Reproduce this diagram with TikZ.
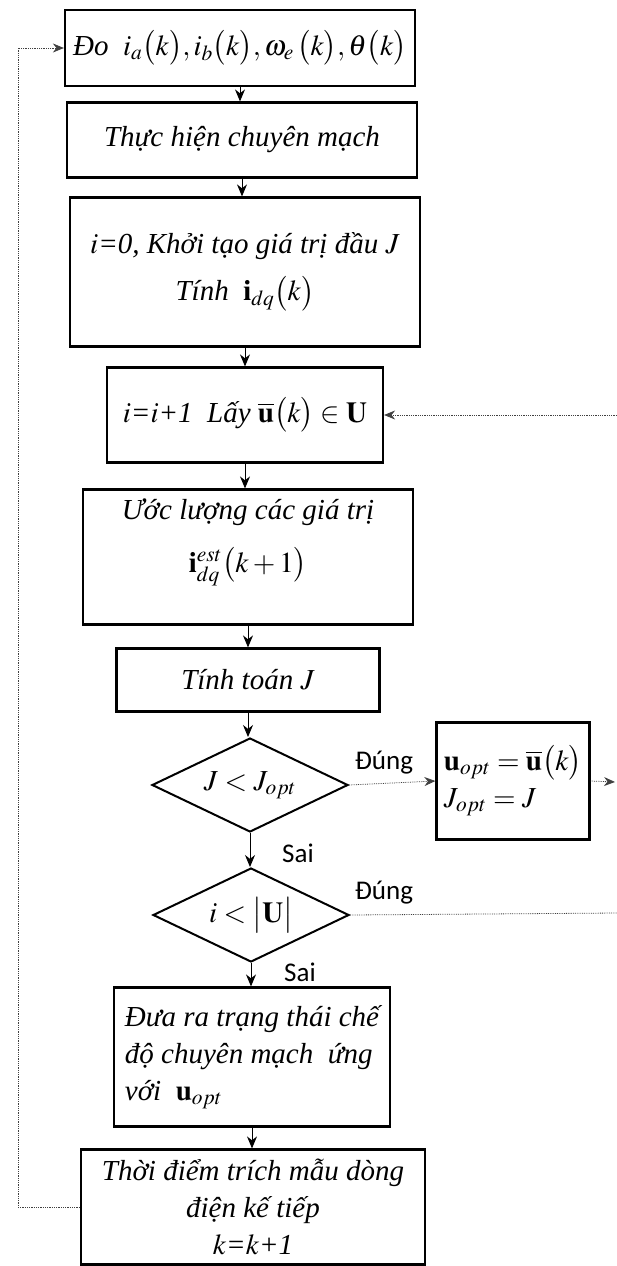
\documentclass[tikz,border=0pt]{standalone}
\usepackage{mathptmx}
\usepackage{fontspec}
\setmainfont{Liberation Serif}
\newfontfamily\labfont{Carlito}
\usetikzlibrary{shapes.geometric,arrows.meta}
\begin{document}
\begin{tikzpicture}[x=1pt,y=-1pt,
  box/.style={draw,line width=2.2pt,inner sep=4pt,font=\fontsize{29}{37}\selectfont\itshape,align=center},
  dia/.style={draw,diamond,line width=2pt,inner sep=0pt,font=\fontsize{29}{37}\selectfont,minimum width=196pt,minimum height=94pt,aspect=2.08},
  arr/.style={line width=0.9pt,-{Stealth[length=12pt,width=10pt]}},
  lp/.style={line width=0.8pt,densely dotted,black!75},
  lparr/.style={lp,-{Stealth[length=11pt,width=9pt]}},
  lab/.style={font=\labfont\fontsize{27}{32}\selectfont}]
\useasboundingbox (0,0) rectangle (617,1266);

\node[box,minimum width=350pt,minimum height=76pt] (b1) at (240,48)
  {Đo\enspace $i_a\bigl(k\bigr), i_b\bigl(k\bigr), \omega_e\,\bigl(k\bigr), \theta\bigl(k\bigr)$};
\node[box,minimum width=350pt,minimum height=75pt] (b2) at (242,140)
  {Thực hiện chuyên mạch};
\node[box,minimum width=350pt,minimum height=149pt] (b3) at (245,272)
  {$i$=0, Khởi tạo giá trị đầu $J$\\[10pt]Tính\enspace $\mathbf{i}_{dq}\bigl(k\bigr)$};
\node[box,minimum width=276pt,minimum height=95pt] (b4) at (245,415)
  {$i$=$i$+1\enspace Lấy $\overline{\mathbf{u}}\bigl(k\bigr)\in\mathbf{U}$};
\node[box,minimum width=330pt,minimum height=135pt] (b5) at (248,557)
  {Ước lượng các giá trị\\[16pt]$\mathbf{i}^{est}_{dq}\bigl(k+1\bigr)$\\[6pt]};
\node[box,minimum width=263pt,minimum height=63pt] (b6) at (248,680)
  {Tính toán $J$};
\node[dia] (d1) at (250,785) {$J<J_{opt}$};
\node[box,minimum width=153pt,minimum height=117pt,align=left] (b7) at (513,781)
  {$\mathbf{u}_{opt}=\overline{\mathbf{u}}\bigl(k\bigr)$\\$J_{opt}=J$};
\node[dia] (d2) at (251,915) {$i<\bigl|\mathbf{U}\bigr|$};
\node[box,minimum width=276pt,minimum height=139pt,align=left] (b8) at (252,1057)
  {Đưa ra trạng thái chế\\độ chuyên mạch\enspace ứng\\với\enspace $\mathbf{u}_{opt}$};
\node[box,minimum width=344pt,minimum height=115pt] (b9) at (253,1207)
  {Thời điểm trích mẫu dòng\\điện kế tiếp\\$k$=$k$+1};

\node[lab] (t1) at (384,763) {Đúng};
\node[lab] (f1) at (298,853) {Sai};
\node[lab] (t2) at (384,893) {Đúng};
\node[lab] (f2) at (300,972) {Sai};

\coordinate (rin) at (617,415);
\coordinate (rout) at (615,782);
\coordinate (rno) at (617,913);
\coordinate (lx) at (18,0);

\draw[arr] (b1.south) -- (b1.south |- b2.north);
\draw[arr] (b2.south) -- (b2.south |- b3.north);
\draw[arr] (b3.south) -- (b3.south |- b4.north);
\draw[arr] (b4.south) -- (b4.south |- b5.north);
\draw[arr] (b5.south) -- (b5.south |- b6.north);
\draw[arr] (b6.south) -- (b6.south |- d1.north);
\draw[arr] (d1.south) -- (d1.south |- d2.north);
\draw[arr] (d2.south) -- (d2.south |- b8.north);
\draw[arr] (b8.south) -- (b8.south |- b9.north);

\draw[lparr] (d1.east) -- (b7.west);
\draw[lparr] (b7.east) -- (rout);
\draw[lp] (d2.east) -- (rno);
\draw[lparr] (rin) -- (b4.east);
\draw[lparr] (b9.west) -- (b9.west -| lx) -- (b1.west -| lx) -- (b1.west);
\end{tikzpicture}
\end{document}
